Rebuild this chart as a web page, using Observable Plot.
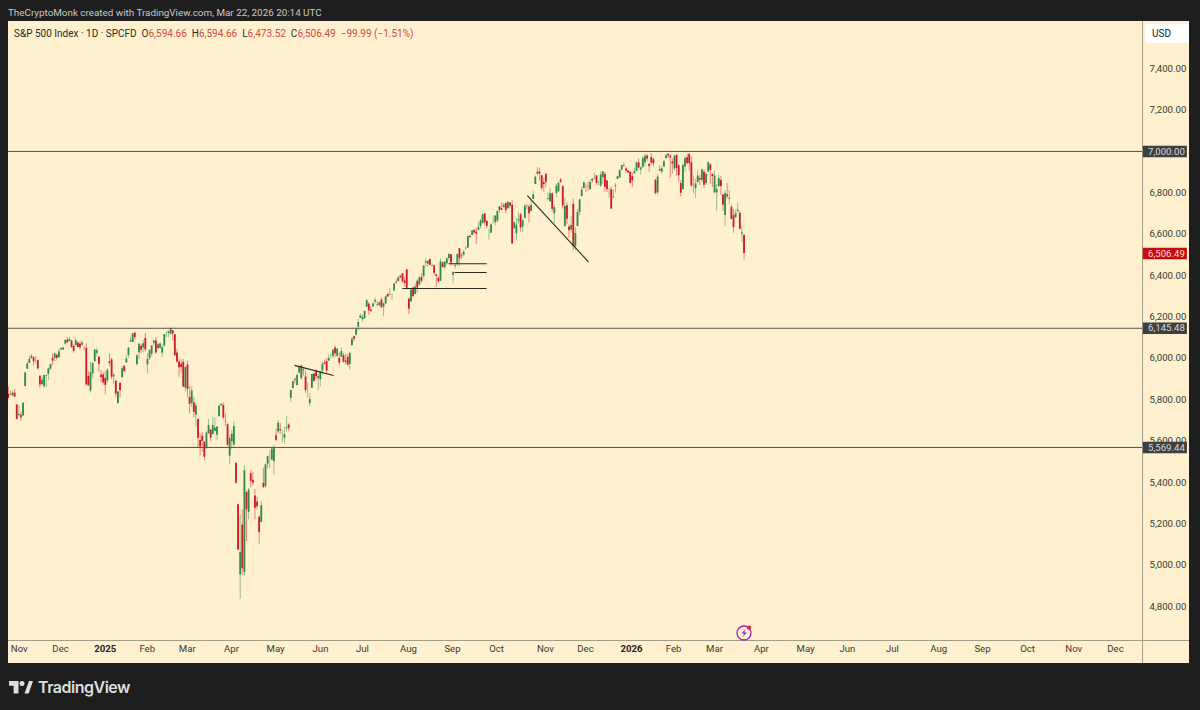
<!DOCTYPE html>
<html><head><meta charset="utf-8">
<script src="https://cdn.jsdelivr.net/npm/d3@7"></script>
<script src="https://cdn.jsdelivr.net/npm/@observablehq/plot@0.6"></script>
<style>
html,body{margin:0;padding:0;width:1200px;height:710px;overflow:hidden;background:#1e1e1e;font-family:Roboto,"Noto Sans",sans-serif}
#chart{position:absolute;left:8px;top:21px;width:1181px;height:642px;background:#fff0cf}
#chart svg{display:block;background:transparent}
.abs{position:absolute;white-space:nowrap}
#credit{left:8px;top:6px;font-size:9.85px;line-height:14px;color:#c9c9c9}
#legend{left:14px;top:27px;font-size:10px;line-height:14px;color:#2a2a2a}
#legend b{font-weight:400;color:#cf4b43}
#usd{left:1145px;top:24px;width:44px;height:19px;border-radius:3px 0 0 3px;background:#fff;font-size:10px;line-height:19px;color:#222;text-indent:7px}
#brand{left:38px;top:675px;font-family:Inter,Roboto,sans-serif;font-size:16px;font-weight:600;line-height:24px;color:#dedede;letter-spacing:-.5px}
</style></head><body>
<div id="chart"></div>
<div class="abs" id="credit">TheCryptoMonk created with TradingView.com, Mar 22, 2026 20:14 UTC</div>
<div class="abs" id="legend">S&amp;P 500 Index · 1D · SPCFD&nbsp; O<b>6,594.66</b>&nbsp; H<b>6,594.66</b>&nbsp; L<b>6,473.52</b>&nbsp; C<b>6,506.49</b>&nbsp; <b>−99.99 (−1.51%)</b></div>
<div class="abs" id="usd">USD</div>
<svg class="abs" style="left:735px;top:623px" width="19" height="19" viewBox="0 0 19 19">
  <circle cx="9" cy="10" r="7" fill="none" stroke="#9c27b0" stroke-width="1.3"/>
  <path d="M10.5 6 L6.5 10.5 H9 L7.8 14 L11.8 9.4 H9.3 Z" fill="#9c27b0"/>
  <circle cx="14" cy="4.6" r="2.2" fill="#e8203a"/>
</svg>
<svg class="abs" style="left:9px;top:681px" width="24" height="13" viewBox="0 0 24 13">
  <path d="M0 0H9.5V12.5H4.6V4.8H0Z M15.5 12.5 L20 0 H24 L19.7 12.5Z" fill="#dedede"/>
  <circle cx="13" cy="2.6" r="2.5" fill="#dedede"/>
</svg>
<div class="abs" id="brand">TradingView</div>
<script>
// Daily bars, Oct 25 2024 to Mar 20 2026, grouped by month
const opens = [
5826,5825,5819,5832,5775,
5723,5725,5722,5864,5947,5976,6008,6003,5985,5989,5913,5874,5864,5914,5923,5947,6000,6000,6015,6003,
6040,6042,6069,6089,6081,6083,6058,6061,6074,6068,6063,6052,6048,5913,5842,5925,5984,6024,6006,5920,5920,
5903,5891,5983,5993,5910,5890,5782,5879,5906,5962,5978,6014,6080,6077,6121,5970,6027,6058,6050,6096,
5969,5998,6020,6073,6084,6046,6049,6025,6060,6115,6121,6117,6134,6114,6026,5982,5971,5981,5856,
5968,5811,5782,5785,5726,5705,5603,5624,5595,5563,5635,5654,5632,5647,5630,5718,5771,5772,5695,5679,5527,
5597,5581,5492,5293,4954,5194,4966,5353,5256,5442,5411,5335,5306,5233,5207,5396,5381,5489,5529,5508,5500,
5626,5645,5656,5606,5614,5660,5678,5807,5854,5897,5869,5929,5902,5944,5910,5842,5781,5855,5925,5939,5903,
5897,5939,5978,5985,5987,6005,6010,6050,6010,6000,6005,6012,5987,6005,5970,6061,6104,6112,6151,6193,
6187,6191,6247,6262,6233,6248,6272,6256,6255,6282,6248,6263,6308,6304,6307,6326,6368,6371,6397,6409,6374,6428,
6287,6272,6340,6309,6372,6354,6390,6395,6461,6455,6478,6445,6447,6403,6386,6373,6460,6438,6457,6483,6501,
6401,6445,6456,6530,6498,6499,6530,6533,6590,6594,6618,6610,6619,6637,6651,6698,6662,6605,6605,6661,6656,
6664,6732,6723,6728,6748,6723,6751,6740,6626,6602,6665,6694,6635,6676,6736,6731,6710,6768,6840,6900,6900,6883,6850,
6889,6768,6757,6795,6699,6797,6805,6862,6831,6636,6738,6635,6621,6745,6539,6637,6706,6782,6820,
6813,6830,6815,6866,6867,6882,6840,6833,6873,6889,6857,6800,6815,6778,6830,6865,6872,6910,6932,6915,6905,6900,
6878,6892,6903,6945,6911,6924,6944,6978,6937,6970,6960,6860,6800,6905,6900,6925,6965,6985,6977,6950,
6915,6980,6930,6845,6815,6925,6970,6985,6945,6835,6820,6850,6870,6860,6900,6845,6900,6935,6890,
6800,6800,6830,6860,6790,6690,6790,6770,6730,6690,6680,6710,6700,6600,6594.66];
const highs = [
5863,5843,5842,5850,5775,
5772,5741,5784,5933,5983,6012,6018,6007,6009,5993,5915,5909,5919,5920,5953,5972,6021,6025,6021,6044,
6053,6053,6089,6100,6100,6088,6065,6100,6079,6079,6085,6057,6070,5936,5982,5978,6041,6050,6006,5941,5930,
5936,5950,6022,6000,5928,5890,5839,5885,5961,5965,6014,6052,6100,6119,6128,6018,6074,6068,6087,6120,
6023,6042,6062,6084,6101,6074,6076,6064,6116,6128,6130,6147,6134,6114,6044,5992,5993,5994,5960,
5987,5865,5861,5812,5783,5705,5636,5642,5598,5646,5704,5654,5716,5711,5670,5775,5783,5785,5732,5685,5627,
5650,5696,5500,5293,5246,5268,5482,5353,5371,5459,5450,5367,5329,5233,5309,5470,5490,5528,5553,5572,5581,
5659,5700,5685,5649,5667,5721,5684,5845,5892,5907,5925,5959,5969,5954,5939,5883,5830,5923,5930,5944,5922,
5938,5982,5990,5999,6017,6022,6043,6059,6045,6026,6050,6024,6019,6019,6026,6101,6108,6146,6188,6215,
6211,6228,6284,6270,6250,6270,6291,6274,6273,6291,6267,6303,6315,6336,6309,6360,6382,6396,6401,6410,6392,6428,
6288,6330,6343,6360,6379,6396,6409,6446,6481,6473,6482,6456,6452,6408,6394,6482,6466,6469,6487,6508,6501,
6416,6460,6503,6532,6507,6523,6542,6592,6594,6619,6623,6626,6656,6672,6698,6698,6664,6624,6650,6687,6689,
6711,6733,6751,6749,6752,6757,6752,6764,6661,6680,6705,6701,6675,6744,6743,6742,6767,6807,6882,6921,6920,6883,6871,
6894,6799,6821,6801,6740,6842,6851,6869,6833,6775,6752,6647,6684,6770,6631,6721,6767,6829,6853,
6843,6850,6862,6866,6895,6882,6856,6900,6903,6899,6861,6821,6828,6814,6845,6881,6910,6933,6945,6923,6907,6900,
6895,6920,6946,6965,6926,6978,6986,6986,6942,6990,6968,6865,6890,6932,6925,6960,6988,6990,6985,6965,
6985,6985,6935,6860,6940,6975,6985,6990,6975,6882,6865,6910,6885,6915,6912,6895,6948,6940,6890,
6905,6840,6885,6880,6790,6810,6845,6810,6740,6720,6715,6750,6710,6640,6594.66];
const lows = [
5800,5823,5812,5811,5703,
5723,5696,5722,5864,5947,5976,5995,5964,5973,5942,5854,5866,5854,5860,5892,5942,5964,5984,5992,6003,
6037,6036,6062,6074,6081,6048,6024,6061,6052,6040,6059,6035,5867,5866,5832,5902,5982,6007,5932,5880,5870,
5824,5880,5960,5896,5874,5809,5774,5809,5906,5930,5978,6000,6076,6076,6088,5962,5994,6023,6028,6031,
5924,5990,6007,6061,6020,6046,6043,6004,6051,6100,6100,6111,6084,6009,5977,5909,5928,5858,5837,
5809,5733,5762,5711,5667,5565,5529,5546,5505,5563,5635,5598,5632,5654,5604,5718,5764,5703,5671,5572,5489,
5558,5571,5392,5070,4835,4950,4949,5115,5220,5373,5386,5220,5267,5101,5207,5371,5371,5464,5468,5506,5434,
5597,5633,5632,5593,5586,5644,5645,5786,5854,5876,5867,5926,5895,5914,5831,5807,5767,5855,5884,5895,5844,
5862,5919,5967,5922,5987,6000,6000,6003,6004,5963,6005,5976,5968,5960,5943,6060,6080,6107,6132,6193,
6175,6191,6247,6207,6221,6248,6263,6250,6252,6243,6201,6263,6293,6304,6282,6325,6360,6369,6385,6362,6347,6331,
6212,6272,6293,6305,6316,6354,6364,6386,6440,6441,6447,6445,6401,6343,6363,6371,6438,6431,6451,6470,6446,
6360,6432,6445,6445,6478,6489,6522,6532,6577,6594,6600,6551,6619,6625,6651,6641,6625,6570,6603,6648,6640,
6655,6702,6714,6728,6700,6723,6723,6551,6626,6569,6650,6610,6607,6676,6718,6655,6709,6768,6840,6884,6856,6811,6803,
6824,6761,6755,6708,6650,6775,6801,6846,6721,6636,6646,6580,6605,6521,6521,6637,6689,6782,6820,
6800,6808,6812,6848,6864,6835,6834,6825,6841,6802,6802,6775,6720,6773,6799,6865,6871,6910,6925,6895,6894,6844,
6825,6890,6903,6916,6885,6918,6925,6950,6900,6935,6925,6789,6790,6905,6890,6925,6965,6965,6870,6890,
6905,6880,6850,6780,6815,6900,6935,6905,6825,6795,6775,6845,6835,6850,6820,6835,6900,6840,6825,
6795,6710,6825,6785,6710,6636,6770,6745,6670,6605,6675,6700,6620,6560,6473.52];
const closes = [
5808,5823,5832,5813,5705,
5729,5712,5783,5929,5973,5996,6001,5984,5985,5949,5871,5894,5917,5917,5949,5969,5987,6021,5999,6032,
6047,6050,6086,6075,6090,6053,6034,6085,6052,6051,6074,6051,5872,5867,5931,5975,6040,6037,5971,5907,5882,
5869,5942,5975,5909,5918,5827,5837,5843,5950,5937,5997,6049,6086,6119,6101,6012,6068,6039,6071,6041,
5995,6038,6061,6084,6026,6066,6069,6052,6115,6115,6130,6144,6118,6013,5983,5955,5956,5861,5955,
5850,5778,5843,5739,5770,5614,5572,5599,5522,5639,5675,5615,5675,5663,5668,5768,5777,5712,5693,5581,5612,
5633,5671,5397,5074,5062,4983,5457,5268,5363,5406,5397,5276,5283,5158,5288,5376,5485,5525,5529,5561,5569,
5604,5687,5650,5607,5631,5664,5660,5844,5887,5893,5917,5958,5964,5940,5845,5842,5802,5922,5889,5912,5912,
5936,5970,5971,5939,6000,6006,6039,6022,6045,5977,6033,5982,5981,5968,6025,6092,6092,6141,6173,6205,
6198,6227,6279,6230,6226,6263,6280,6259,6268,6244,6264,6297,6297,6306,6309,6359,6363,6389,6390,6371,6362,6339,
6238,6330,6299,6345,6340,6389,6373,6446,6467,6469,6450,6449,6411,6396,6370,6467,6439,6465,6481,6502,6460,
6416,6448,6502,6482,6495,6513,6532,6588,6584,6615,6606,6600,6632,6664,6693,6656,6638,6605,6644,6661,6688,
6711,6715,6716,6740,6714,6754,6735,6553,6655,6644,6671,6630,6664,6735,6735,6699,6738,6791,6875,6891,6890,6822,6840,
6851,6771,6796,6720,6728,6832,6846,6851,6737,6734,6672,6617,6642,6539,6603,6705,6766,6813,6849,
6812,6829,6850,6857,6870,6846,6840,6887,6901,6827,6816,6800,6721,6775,6834,6878,6909,6932,6930,6905,6896,6845,
6858,6902,6945,6920,6921,6966,6977,6964,6927,6944,6940,6797,6876,6913,6916,6950,6979,6978,6969,6939,
6976,6918,6883,6798,6932,6965,6942,6941,6833,6836,6843,6881,6861,6910,6837,6890,6946,6908,6879,
6881,6817,6869,6830,6740,6796,6781,6775,6672,6632,6699,6716,6624,6606,6506.49];

if (new Set([opens.length,highs.length,lows.length,closes.length]).size!==1)
  throw new Error([opens.length,highs.length,lows.length,closes.length].join());

const monthIdx   = [5.2,24.8,65.9,84.9,105.9,126.8,148.1,168,189.8,210.7,231.6,254.8,273.8,315.6,335,357.2,378.2,398,419.4,441.3,462.1,483.5,505.4,525.2];
const monthNames = ["Nov","Dec","Feb","Mar","Apr","May","Jun","Jul","Aug","Sep","Oct","Nov","Dec","Feb","Mar","Apr","May","Jun","Jul","Aug","Sep","Oct","Nov","Dec"];
const yearIdx   = [46,295.6];
const yearNames = ["2025","2026"];
const priceTicks = [4800,5000,5200,5400,5600,5800,6000,6200,6400,6600,6800,7200,7400];

const levels   = [7000,6145.48,5569.44];
const levelTags= ["7,000.00","6,145.48","5,569.44"];
const lastPrice = 6506.49;

// Hand-drawn chart lines: [bar, price, bar, price]
const drawn = [
  [135.8,5966,154.3,5917],
  [246.2,6787,275.3,6465],
  [208.8,6457,226.9,6457],
  [211.7,6415,226.9,6415],
  [186.9,6338,226.9,6338]
];

const bars = closes.map((c,i)=>({i,o:opens[i],h:highs[i],l:lows[i],c}));
const RED="#cf1a22", GREEN="#2d8a47", LINE="#55524a", INK="#3a3833", EDGE="#a39c86";
const X0=0.1, X1=538, XR=560.3, Y0=4636.5, Y1=7628, YB=4525;
const col = d => d.c>=d.o ? GREEN : RED;
const tagX=(X1+XR)/2+0.2;

const chart = Plot.plot({
  width:1181,height:642,marginLeft:0,marginRight:47,marginTop:0,marginBottom:23,
  x:{domain:[X0,X1]}, y:{domain:[Y0,Y1]},
  style:{background:"transparent",fontFamily:"Roboto, 'Noto Sans', sans-serif",fontSize:"9.6px",color:INK},
  marks:[
    Plot.ruleX(bars,{x:"i",y1:"l",y2:"h",stroke:col,strokeWidth:0.9,strokeOpacity:0.55}),
    Plot.ruleX(bars,{x:"i",y1:"o",y2:"c",stroke:col,strokeWidth:1.8}),
    Plot.ruleY(levels,{x1:X0,x2:X1,stroke:LINE,strokeWidth:1}),
    Plot.link(drawn,{x1:d=>d[0],y1:d=>d[1],x2:d=>d[2],y2:d=>d[3],stroke:"#2b2a26",strokeWidth:1.1}),
    Plot.ruleX([X1],{y1:Y1,y2:YB,stroke:EDGE,strokeWidth:1}),
    Plot.ruleY([Y0],{x1:X0,x2:XR,stroke:EDGE,strokeWidth:1}),
    Plot.axisY(priceTicks,{anchor:"right",tickSize:0,tickPadding:7,tickFormat:d3.format(",.2f"),label:null,textAnchor:"start",fill:INK}),
    Plot.axisX(monthIdx,{anchor:"bottom",tickSize:0,tickPadding:5,label:null,fill:INK,tickFormat:d=>monthNames[monthIdx.indexOf(d)]}),
    Plot.axisX(yearIdx,{anchor:"bottom",tickSize:0,tickPadding:5,label:null,fill:"#222",fontWeight:700,tickFormat:d=>yearNames[yearIdx.indexOf(d)]}),
    Plot.ruleY(levels,{x1:X1+0.4,x2:XR-1,stroke:"#3f3f3f",strokeWidth:11.5}),
    Plot.ruleY([lastPrice],{x1:X1+0.4,x2:XR-1,stroke:"#cc0a0a",strokeWidth:11.5}),
    Plot.text(levelTags,{x:tagX,y:(d,i)=>levels[i],text:d=>d,fill:"#d8d8d8"}),
    Plot.text([lastPrice],{x:tagX,y:d=>d,text:d=>d3.format(",.2f")(d),fill:"#f4dcdc"})
  ]
});
document.getElementById("chart").appendChild(chart);
</script>
</body></html>
